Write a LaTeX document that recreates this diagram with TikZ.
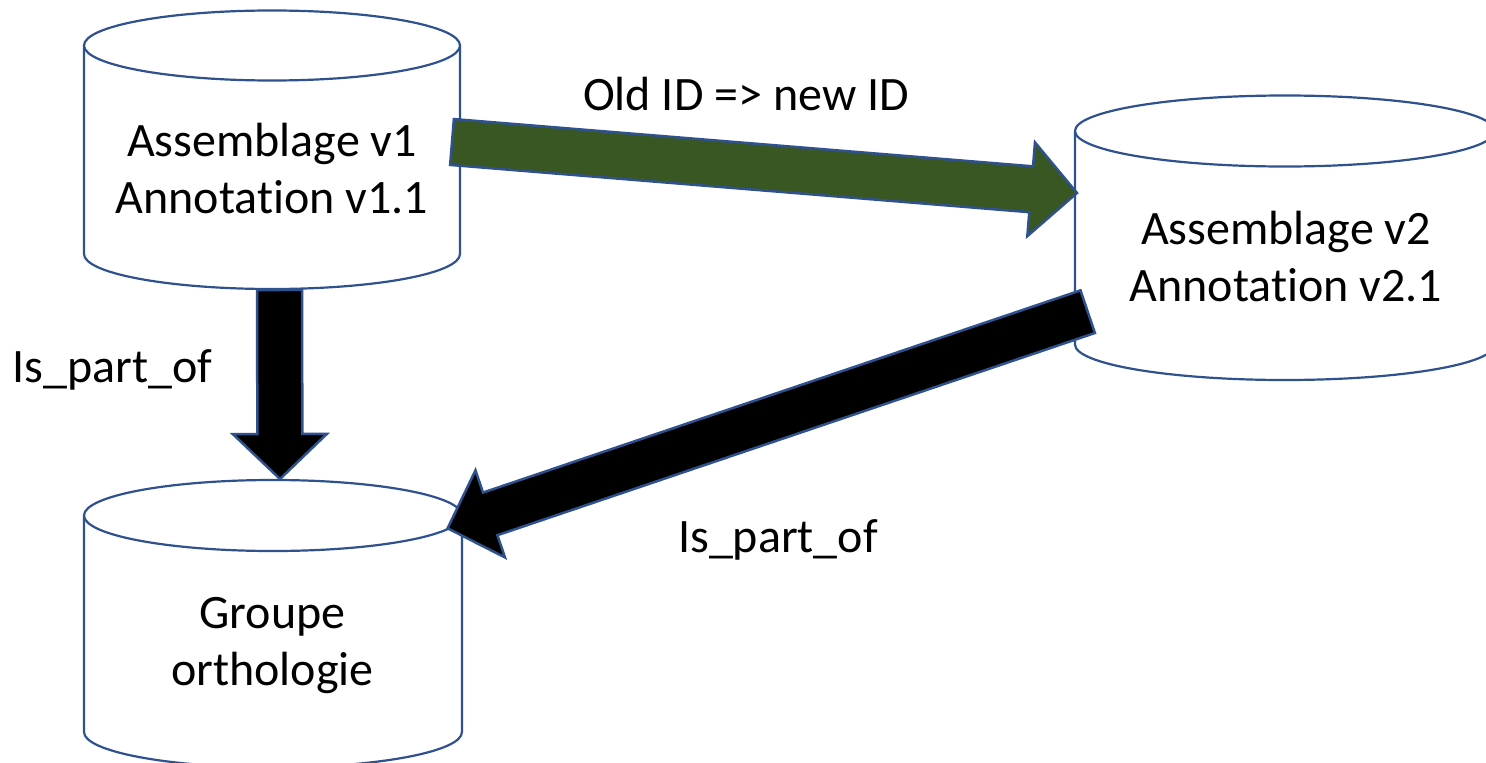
\documentclass[tikz,border=0pt]{standalone}
\usepackage{fontspec}
\setmainfont{Carlito}[Ligatures={NoCommon}]
\usetikzlibrary{calc}

\definecolor{edgeblue}{HTML}{2F528F}
\definecolor{olivegreen}{HTML}{385723}

% Database cylinder: centre x, top-ellipse y, bottom-ellipse y, x radius, y radius
\newcommand{\dbcyl}[5]{%
  \draw[cylline] ({#1-#4},#2) -- ({#1-#4},#3)
    arc[start angle=180, end angle=0, x radius=#4, y radius=#5] -- ({#1+#4},#2);
  \draw[cylline] (#1,#2) ellipse[x radius=#4, y radius=#5];
}

% Block arrow: start, tip, half shaft width, half head width, head length, style
\newcommand{\fatarrow}[6]{%
  \coordinate (fa-base) at ($(#2)!#5!(#1)$);
  \draw[#6] ($(#1)!#3!90:(#2)$) -- ($(fa-base)!#3!90:(#2)$)
    -- ($(fa-base)!#4!90:(#2)$) -- (#2)
    -- ($(fa-base)!#4!-90:(#2)$) -- ($(fa-base)!#3!-90:(#2)$)
    -- ($(#1)!#3!-90:(#2)$) -- cycle;
}

\tikzset{
  cylline/.style={draw=edgeblue, line width=2.2pt, fill=white},
  greenarrow/.style={draw=edgeblue, line width=2.5pt, fill=olivegreen, line join=miter},
  blackarrow/.style={draw=edgeblue, line width=2.5pt, fill=black, line join=miter},
  label/.style={font=\fontsize{48}{57}\selectfont, inner sep=0pt, anchor=base},
  dbtext/.style={label, align=center},
}

\begin{document}
\begin{tikzpicture}[x=1pt, y=-1pt]
  \fill[white] (0,0) rectangle (1486,763);
  \useasboundingbox (0,0) rectangle (1486,763);
  \clip (0,0) rectangle (1486,763);

  % the three databases
  \dbcyl{272}{45.5}{254}{188}{35}
  \dbcyl{1285}{131}{344.5}{210}{35.5}
  \dbcyl{273}{515.5}{732}{189}{35.5}

  % base anchor sits on the last line of each two-line text
  \node[dbtext] (db1) at (272,213) {Assemblage v1\\Annotation v1.1};
  \node[dbtext] (db2) at (1286,301) {Assemblage v2\\Annotation v2.1};
  \node[dbtext] (db3) at (272.5,685) {Groupe\\orthologie};

  % arrow end points on the cylinder outlines
  \coordinate (v1out) at (452,142);
  \coordinate (v2in) at (1077,193);
  \coordinate (v1down) at (279.5,290);
  \coordinate (grptop) at (280,479);
  \coordinate (v2out) at (1087.7,311.7);
  \coordinate (grpside) at (447.6,528.3);

  \fatarrow{v1out}{v2in}{23pt}{47pt}{46pt}{greenarrow}
  \fatarrow{v1down}{grptop}{22.5pt}{47pt}{45pt}{blackarrow}
  \fatarrow{v2out}{grpside}{22.5pt}{46pt}{45pt}{blackarrow}

  % connector labels
  \node[label] (idmap) at (746,110) {Old ID => new ID};
  \node[label] (part1) at (112.5,382.7) {Is\_part\_of};
  \node[label] (part2) at (778,552) {Is\_part\_of};
\end{tikzpicture}
\end{document}
